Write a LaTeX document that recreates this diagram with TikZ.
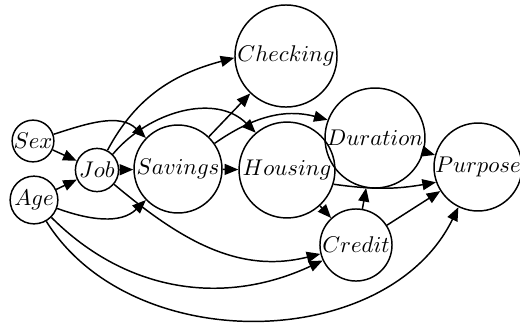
\documentclass[tikz,border=0pt]{standalone}
\usetikzlibrary{arrows.meta}
\begin{document}
\begin{tikzpicture}[x=0.44pt,y=0.44pt,
  var/.style={circle,draw,line width=0.65pt,inner sep=0pt,minimum size=#1},
  edge/.style={-{Triangle[length=6pt,width=4.8pt]},line width=0.65pt}]
\useasboundingbox (0,0) rectangle (520,-325);
% variables
\node[var=17.5pt] (sex) at (33,-141) {$Sex$};
\node[var=21pt] (age) at (34,-200) {$Age$};
\node[var=19pt] (job) at (97,-170) {$Job$};
\node[var=38.7pt] (sav) at (178,-169) {$Savings$};
\node[var=44.9pt] (chk) at (286,-56) {$Checking$};
\node[var=42.2pt] (hou) at (287,-170) {$Housing$};
\node[var=44pt] (dur) at (375,-138) {$Duration$};
\node[var=38.7pt] (pur) at (478,-167) {$Purpose$};
\node[var=31.7pt] (cre) at (356,-245) {$Credit$};
% straight dependencies
\draw[edge] (sex) -- (job);
\draw[edge] (age) -- (job);
\draw[edge] (job) -- (sav);
\draw[edge] (sav) -- (chk);
\draw[edge] (sav) -- (hou);
\draw[edge] (hou) -- (cre);
\draw[edge] (cre) -- (dur);
\draw[edge] (cre) -- (pur);
\draw[edge] (dur) -- (pur);
% curved dependencies
\draw[edge] (sex) to[out=18,in=136] (sav);
\draw[edge] (age) to[out=-20,in=224] (sav);
\draw[edge] (age.-45) to[out=-45,in=205] (cre.205);
\draw[edge] (age.-60) to[out=-58,in=244] (pur.244);
\draw[edge] (job.-40) to[out=-40,in=194] (cre.194);
\draw[edge] (job.62) to[out=62,in=195] (chk.182);
\draw[edge] (job.45) to[out=50,in=135] (hou.130);
\draw[edge] (sav.35) to[out=35,in=165] (dur.159);
\draw[edge] (hou.-17) to[out=-8,in=190] (pur.200);
\end{tikzpicture}
\end{document}
